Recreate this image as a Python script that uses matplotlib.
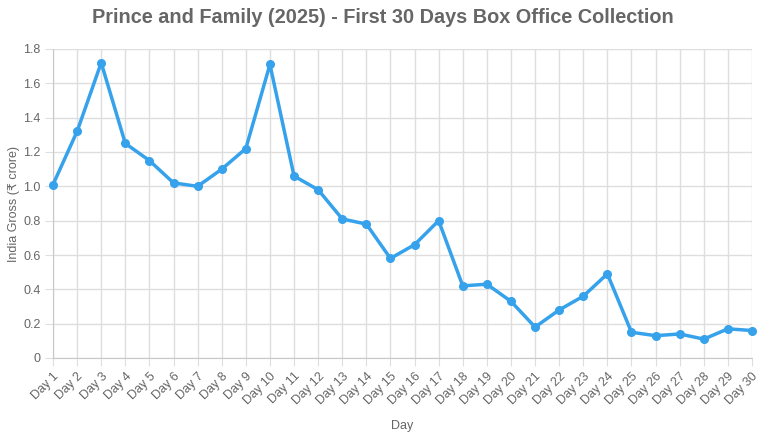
import matplotlib
matplotlib.use("Agg")
import matplotlib.pyplot as plt

plt.rcParams['font.family'] = ['Liberation Sans', 'DejaVu Sans']

days = [f"Day {i}" for i in range(1, 31)]
gross = [1.01, 1.32, 1.72, 1.25, 1.15, 1.02, 1.00, 1.10, 1.22, 1.71,
         1.06, 0.98, 0.81, 0.78, 0.58, 0.66, 0.80, 0.42, 0.43, 0.33,
         0.18, 0.28, 0.36, 0.49, 0.15, 0.13, 0.14, 0.11, 0.17, 0.16]
y_ticks = [0, 0.2, 0.4, 0.6, 0.8, 1.0, 1.2, 1.4, 1.6, 1.8]
y_labels = ['0', '0.2', '0.4', '0.6', '0.8', '1.0', '1.2', '1.4', '1.6', '1.8']

fig = plt.figure(figsize=(7.66, 4.33), dpi=100)
ax = fig.add_axes([53 / 766, 1 - 358 / 433, (752 - 53) / 766, (358 - 49) / 433])

x = list(range(len(days)))
ax.plot(x, gross, color='#36A2EB', linewidth=2.5, marker='o', markersize=5.5,
        markerfacecolor='#36A2EB', markeredgecolor='#36A2EB', clip_on=False, zorder=3)

ax.set_xlim(0, len(days) - 1)
ax.set_ylim(0, 1.8)
ax.set_xticks(x)
ax.set_xticklabels(days, rotation=45, ha='right', rotation_mode='anchor', fontsize=9, color='#666666')
ax.set_yticks(y_ticks)
ax.set_yticklabels(y_labels, fontsize=9, color='#666666')

ax.grid(True, color='#dedede', linewidth=1)
ax.set_axisbelow(True)
for side in ['top', 'right']:
    ax.spines[side].set_visible(False)
for side in ['left', 'bottom']:
    ax.spines[side].set_color('#c8c8c8')
ax.tick_params(axis='both', length=6, color='#dedede', pad=3)

ax.set_xlabel('Day', fontsize=9, color='#666666', labelpad=9)
ax.set_ylabel('India Gross (₹ crore)', fontsize=9, color='#666666', labelpad=2)
fig.suptitle('Prince and Family (2025) - First 30 Days Box Office Collection',
             fontsize=14.3, fontweight='bold', color='#666666', y=0.982)

fig.savefig('out.png', dpi=100)
